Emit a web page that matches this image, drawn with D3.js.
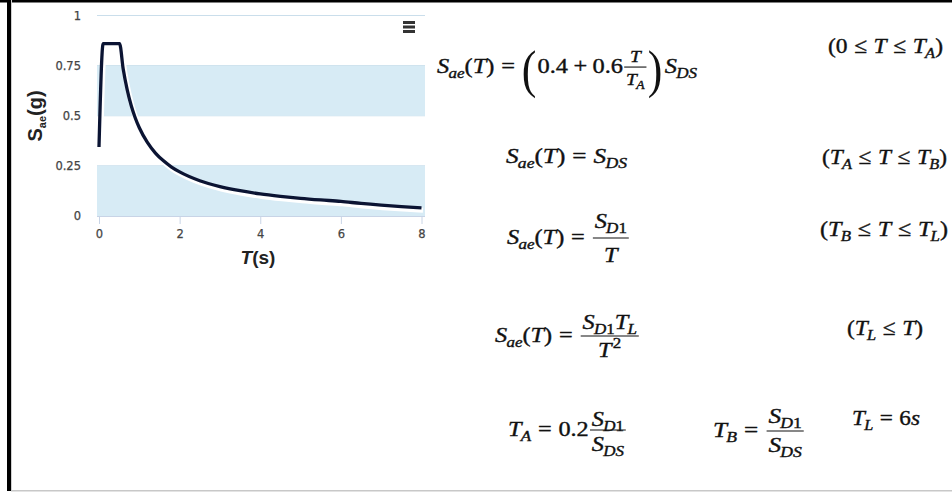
<!DOCTYPE html>
<html><head><meta charset="utf-8">
<script src="https://cdn.jsdelivr.net/npm/d3@7"></script>
<style>body{margin:0;background:#fff}svg{display:block}</style>
</head><body>
<svg id="c" width="952" height="492"></svg>
<script>
// ---- data ----
const periods  = [0, 0.104, 0.51, 0.6, 0.7, 0.8, 0.9, 1.0, 1.2, 1.4, 1.6, 1.8, 2.0, 2.5, 3.0, 3.5, 4.0, 4.5, 5.0, 5.5, 6.0, 6.5, 7.0, 7.5, 8.0];
const saValues = [0.344, 0.86, 0.86, 0.733, 0.629, 0.55, 0.489, 0.44, 0.367, 0.314, 0.275, 0.244, 0.22, 0.176, 0.147, 0.126, 0.11, 0.098, 0.088, 0.08, 0.073, 0.0625, 0.054, 0.047, 0.041];
const yTicks = [0, 0.25, 0.5, 0.75, 1];
const yTickLabels = ["0", "0.25", "0.5", "0.75", "1"];
const xTicks = [0, 2, 4, 6, 8];
const xTickLabels = ["0", "2", "4", "6", "8"];
const bandFrom = [0, 0.5];
const bandTo = [0.25, 0.75];

const svg = d3.select("#c");
const SANS = "'DejaVu Sans','Liberation Sans',sans-serif";
const ARIAL = "'Liberation Sans',Arial,sans-serif";
const SERIF = "'Liberation Serif','Times New Roman',serif";

// frame
svg.append("rect").attr("x",0).attr("y",0).attr("width",952).attr("height",2.5).attr("fill","#000");
svg.append("rect").attr("x",7).attr("y",0).attr("width",4).attr("height",491).attr("fill","#000");
svg.append("rect").attr("x",11).attr("y",0).attr("width",1).attr("height",490).attr("fill","#d0d0d0");
svg.append("rect").attr("x",11).attr("y",490).attr("width",941).attr("height",1.5).attr("fill","#c8c8c8");

// ---- chart ----
const plotL = 97, plotR = 425;
const x = d3.scaleLinear().domain([0, 8]).range([99, 421.5]);
const y = d3.scaleLinear().domain([0, 1]).range([216, 15.5]);

const chart = svg.append("g");
chart.selectAll("line.grid").data(yTicks).join("line")
  .attr("x1", plotL).attr("x2", plotR)
  .attr("y1", d => y(d)).attr("y2", d => y(d))
  .attr("stroke", "#cadeeb").attr("stroke-width", 1.2);
chart.selectAll("rect.band").data(bandFrom).join("rect")
  .attr("x", plotL).attr("width", plotR - plotL)
  .attr("y", (d, i) => y(bandTo[i])).attr("height", (d, i) => y(d) - y(bandTo[i]))
  .attr("fill", "#d7ebf5");

chart.selectAll("text.ylab").data(yTicks).join("text")
  .attr("x", 81).attr("y", d => y(d) + 4)
  .attr("text-anchor", "end").attr("font-family", SANS).attr("font-size", 11.5)
  .attr("fill", "#444").attr("stroke", "#444").attr("stroke-width", 0.25)
  .text((d, i) => yTickLabels[i]);

const xAxis = d3.axisBottom(x).tickValues(xTicks).tickFormat((d, i) => xTickLabels[i]).tickSize(8).tickPadding(6);
const xg = chart.append("g").attr("transform", "translate(0,216)").call(xAxis);
xg.select(".domain").remove();
xg.selectAll(".tick line").attr("stroke", "#c8d4e6");
xg.selectAll(".tick text").attr("font-family", SANS).attr("font-size", 11.5).attr("fill", "#444")
  .attr("stroke", "#444").attr("stroke-width", 0.25);
chart.append("line").attr("x1", plotL).attr("x2", plotR).attr("y1", 216.5).attr("y2", 216.5)
  .attr("stroke", "#c8d4e6").attr("stroke-width", 1);

const pts = periods.map((t, i) => [t, saValues[i]]);
const line = d3.line().x(d => x(d[0])).y(d => y(d[1])).curve(d3.curveMonotoneX);
chart.append("path").datum(pts).attr("d", line).attr("fill", "none")
  .attr("stroke", "#fff").attr("stroke-width", 5).attr("transform", "translate(1.5,2.5)");
chart.append("path").datum(pts).attr("d", line).attr("fill", "none")
  .attr("stroke", "#0b1433").attr("stroke-width", 3.3).attr("stroke-linejoin", "round");

[21, 25.5, 30].forEach(yy => chart.append("rect").attr("x", 403).attr("y", yy).attr("width", 12).attr("height", 3).attr("fill", "#333"));

const xt = chart.append("text").attr("x", 258).attr("y", 264).attr("text-anchor", "middle")
  .attr("font-family", ARIAL).attr("font-size", 19).attr("font-weight", "bold").attr("fill", "#222");
xt.append("tspan").attr("font-style", "italic").text("T");
xt.append("tspan").text("(s)");
const yt = chart.append("text").attr("transform", "translate(42,116) rotate(-90)").attr("text-anchor", "middle")
  .attr("font-family", ARIAL).attr("font-size", 20).attr("font-weight", "bold").attr("fill", "#222");
yt.append("tspan").text("S");
yt.append("tspan").attr("font-size", 11).attr("dy", 4).text("ae");
yt.append("tspan").attr("dy", -4).text("(g)");

// ---- formulas ----
const I = t => ({t, i: 1});
const R = t => ({t, i: 0});
const sub = (...a) => ({sub: a});
const sup = (...a) => ({sup: a});
const sp = e => ({sp: e});
const frac = (num, den, o = {}) => Object.assign({frac: [num, den]}, o);
const REL = r => [sp(0.28), R(r), sp(0.28)];

function lay(g, toks, x0, y0, size) {
  let xx = x0;
  for (const tk of toks) {
    if (tk.t !== undefined) {
      const el = g.append("text").attr("x", xx).attr("y", y0).attr("font-size", size)
        .attr("font-style", tk.i ? "italic" : "normal").text(tk.t);
      xx += el.node().getComputedTextLength();
    } else if (tk.sub) {
      xx = lay(g, tk.sub, xx - size * 0.03, y0 + size * 0.22, size * 0.7);
    } else if (tk.sup) {
      xx = lay(g, tk.sup, xx + size * 0.05, y0 - size * 0.42, size * 0.7);
    } else if (tk.sp !== undefined) {
      xx += tk.sp * size;
    } else if (tk.big) {
      const bs = size * 2.4;
      const el = g.append("text").attr("font-size", bs).attr("stroke", "none").text(tk.big)
        .attr("transform", `translate(${xx},${y0 + size * 0.62}) scale(0.75,1)`);
      xx += el.node().getComputedTextLength() * 0.75 + size * 0.05;
    } else if (tk.frac) {
      const s = size * (tk.s || 1);
      const gn = g.append("g"), gd = g.append("g");
      const wn = lay(gn, tk.frac[0], 0, 0, s);
      const wd = lay(gd, tk.frac[1], 0, 0, s);
      const w = Math.max(wn, wd) + size * 0.25;
      const axis = y0 - size * 0.27;
      g.append("line").attr("x1", xx + size * 0.05).attr("x2", xx + w - size * 0.05)
        .attr("y1", axis).attr("y2", axis).attr("stroke", "#111").attr("stroke-width", 1.1);
      gn.attr("transform", `translate(${xx + (w - wn) / 2},${y0 - size * (tk.up || 0.72)})`);
      gd.attr("transform", `translate(${xx + (w - wd) / 2},${y0 + size * (tk.dn || 0.8)})`);
      xx += w;
    }
  }
  return xx;
}

const fg = svg.append("g").attr("font-family", SERIF).attr("fill", "#111")
  .attr("stroke", "#111").attr("stroke-width", 0.4);
function formula(toks, x0, y0, size, target) {
  const g = fg.append("g");
  const end = lay(g, toks, x0, y0, size);
  if (target) {
    const s = target / (end - x0);
    g.attr("transform", `translate(${x0},0) scale(${s},1) translate(${-x0},0)`);
  }
  return g;
}
const SAE = [I("S"), sub(I("ae")), R("("), I("T"), R(")"), ...REL("=")];
const SDS = [I("S"), sub(I("DS"))];
const SD1 = [I("S"), sub(I("D"), R("1"))];
const FS = 22;

formula([...SAE, {big: "("}, R("0.4"), sp(0.22), R("+"), sp(0.22), R("0.6"),
  frac([I("T")], [I("T"), sub(I("A"))], {s: 0.8, up: 0.52, dn: 0.55}), {big: ")"}, sp(0.05), ...SDS], 437, 73, FS, 260);
formula([...SAE, ...SDS], 506, 163, FS, 121);
formula([...SAE, frac([...SD1], [I("T")])], 507, 244, FS, 123);
formula([...SAE, frac([...SD1, I("T"), sub(I("L"))], [I("T"), sup(R("2"))], {up: 0.6, dn: 0.7})], 495, 342, FS, 145);
formula([I("T"), sub(I("A")), ...REL("="), R("0.2"), frac([...SD1], [...SDS], {up: 0.45, dn: 0.7})], 508, 436, FS, 119);
formula([I("T"), sub(I("B")), ...REL("="), frac([...SD1], [...SDS], {up: 0.65, dn: 0.7})], 713, 437, FS, 92);
formula([I("T"), sub(I("L")), ...REL("="), R("6"), I("s")], 852, 425, FS, 68);

formula([R("("), R("0"), ...REL("≤"), I("T"), ...REL("≤"), I("T"), sub(I("A")), R(")")], 828, 53, FS, 115);
formula([R("("), I("T"), sub(I("A")), ...REL("≤"), I("T"), ...REL("≤"), I("T"), sub(I("B")), R(")")], 822, 164, FS, 125);
formula([R("("), I("T"), sub(I("B")), ...REL("≤"), I("T"), ...REL("≤"), I("T"), sub(I("L")), R(")")], 820, 236, FS, 128);
formula([R("("), I("T"), sub(I("L")), ...REL("≤"), I("T"), R(")")], 847, 335, FS, 76);
</script>
</body></html>
